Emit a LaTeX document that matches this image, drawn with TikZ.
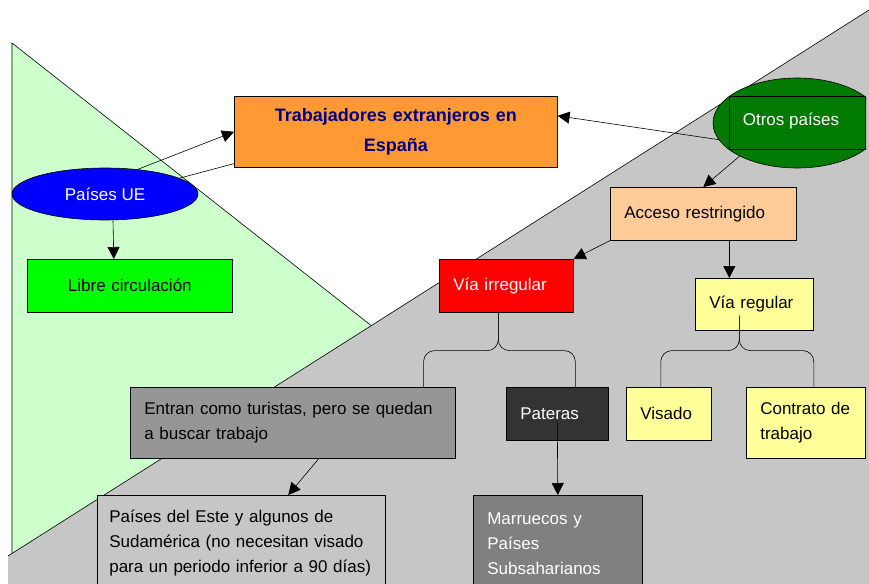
\documentclass[tikz,border=0pt]{standalone}
\usepackage{fontspec}
\setmainfont{Liberation Sans}
\usetikzlibrary{arrows.meta,shapes.geometric}

\definecolor{bggreen}{RGB}{204,255,204}
\definecolor{bggray}{RGB}{198,198,198}
\definecolor{trorange}{RGB}{255,153,51}
\definecolor{trnavy}{RGB}{0,0,128}
\definecolor{opgreen}{RGB}{0,122,0}
\definecolor{accpeach}{RGB}{255,204,153}
\definecolor{vryellow}{RGB}{255,255,153}
\definecolor{entgray}{RGB}{150,150,150}
\definecolor{patdark}{RGB}{51,51,51}
\definecolor{margray}{RGB}{128,128,128}

\begin{document}
\begin{tikzpicture}[x=1pt,y=-1pt,>={Triangle[length=12pt,width=12pt]},semithick,
                    every node/.style={font=\fontsize{17}{25}\selectfont}]
  \tikzstyle{box}=[draw=black,rectangle,anchor=north west,align=left,
                   inner xsep=14pt,inner ysep=0pt]
  \tikzstyle{oval}=[draw=black,ellipse,inner sep=0pt,text=white]
  \tikzstyle{brace}=[-,rounded corners=11pt]

  \useasboundingbox (0,0) rectangle (869,583);
  \clip (0,0) rectangle (869,583);

  % background triangles
  \filldraw[fill=bggreen] (12,43) -- (12,600) -- (720,600) -- cycle;
  \fill[bggray] (8,556) -- (869,10) -- (869,600) -- (8,600) -- cycle;
  \draw (8,556) -- (869,10);

  \node[box,fill=trorange,text width=295pt,minimum height=71pt,align=center,
        text=trnavy,font=\bfseries\fontsize{18}{30}\selectfont]
        (tr) at (234,96) {Trabajadores extranjeros en\\España};

  \begin{scope}
    \clip (0,0) rectangle (866,583);
    \node[oval,fill=opgreen,minimum width=168pt,minimum height=90pt]
          (op) at (797,123) {};
    \draw ([xshift=-68pt,yshift=26.5pt]op.center) rectangle
          ([xshift=68pt,yshift=-26.5pt]op.center);
    \node[text=white] (opt) at (791,121) {Otros países};
  \end{scope}

  \node[oval,fill=blue,minimum width=186pt,minimum height=52pt]
        (ue) at (105,194) {Países UE};
  \node[box,fill=green,text width=177pt,minimum height=53pt,align=center]
        (lc) at (27,259) {Libre circulación};

  \node[box,fill=accpeach,text width=158pt,minimum height=53pt]
        (acc) at (610,187) {Acceso restringido};
  \node[box,fill=red,text=white,text width=106pt,minimum height=53pt]
        (vi) at (439,259) {Vía irregular};
  \node[box,fill=vryellow,text width=90pt,minimum height=52pt]
        (vr) at (695,278) {Vía regular};

  \node[box,fill=entgray,text width=297pt,minimum height=71pt]
        (ent) at (130,387) {Entran como turistas, pero se quedan\\a buscar trabajo};
  \node[box,fill=patdark,text=white,text width=74pt,minimum height=53pt]
        (pat) at (506,387) {Pateras};
  \node[box,fill=vryellow,text width=57pt,minimum height=53pt]
        (vis) at (626,387) {Visado};
  \node[box,fill=vryellow,text width=91pt,minimum height=71pt]
        (con) at (746,387) {Contrato de\\trabajo};

  \node[box,fill=bggray,inner xsep=12pt,text width=264pt,minimum height=96pt]
        (pde) at (97,495) {Países del Este y algunos de\\Sudamérica (no necesitan visado\\para un periodo inferior a 90~días)};
  \node[box,fill=margray,text=white,text width=141pt,minimum height=96pt]
        (mar) at (473,495) {Marruecos y\\Países\\Subsaharianos};

  \path[->] (ue.37) edge (tr.west)
        ([yshift=4pt]tr.south west) edge[-] (ue.12)
        ([xshift=8pt]ue.south) edge ([xshift=-16pt]lc.north)
        (op.192) edge ([yshift=16pt]tr.east)
        (op.210) edge (acc.north)
        (acc.south west) edge (vi.north east)
        ([xshift=26pt]acc.south) edge ([xshift=-25pt]vr.north)
        ([xshift=26pt]ent.south) edge ([xshift=47pt]pde.north)
        ([yshift=-9pt]pat.center) edge (mar.north);

  \draw[brace] ([xshift=-32pt]ent.north east) |- ([xshift=-8pt,yshift=-38pt]vi.south)
               -- ([xshift=-8pt]vi.south);
  \draw[brace] ([xshift=18pt]pat.north) |- ([xshift=-8pt,yshift=-38pt]vi.south)
               -- ([xshift=-8pt]vi.south);
  \draw[brace] ([xshift=-8pt]vis.north) |- ([xshift=-15pt,yshift=-20pt]vr.south)
               -- ([xshift=-15pt,yshift=15pt]vr.south);
  \draw[brace] ([xshift=8pt]con.north) |- ([xshift=-15pt,yshift=-20pt]vr.south)
               -- ([xshift=-15pt,yshift=15pt]vr.south);
\end{tikzpicture}
\end{document}
